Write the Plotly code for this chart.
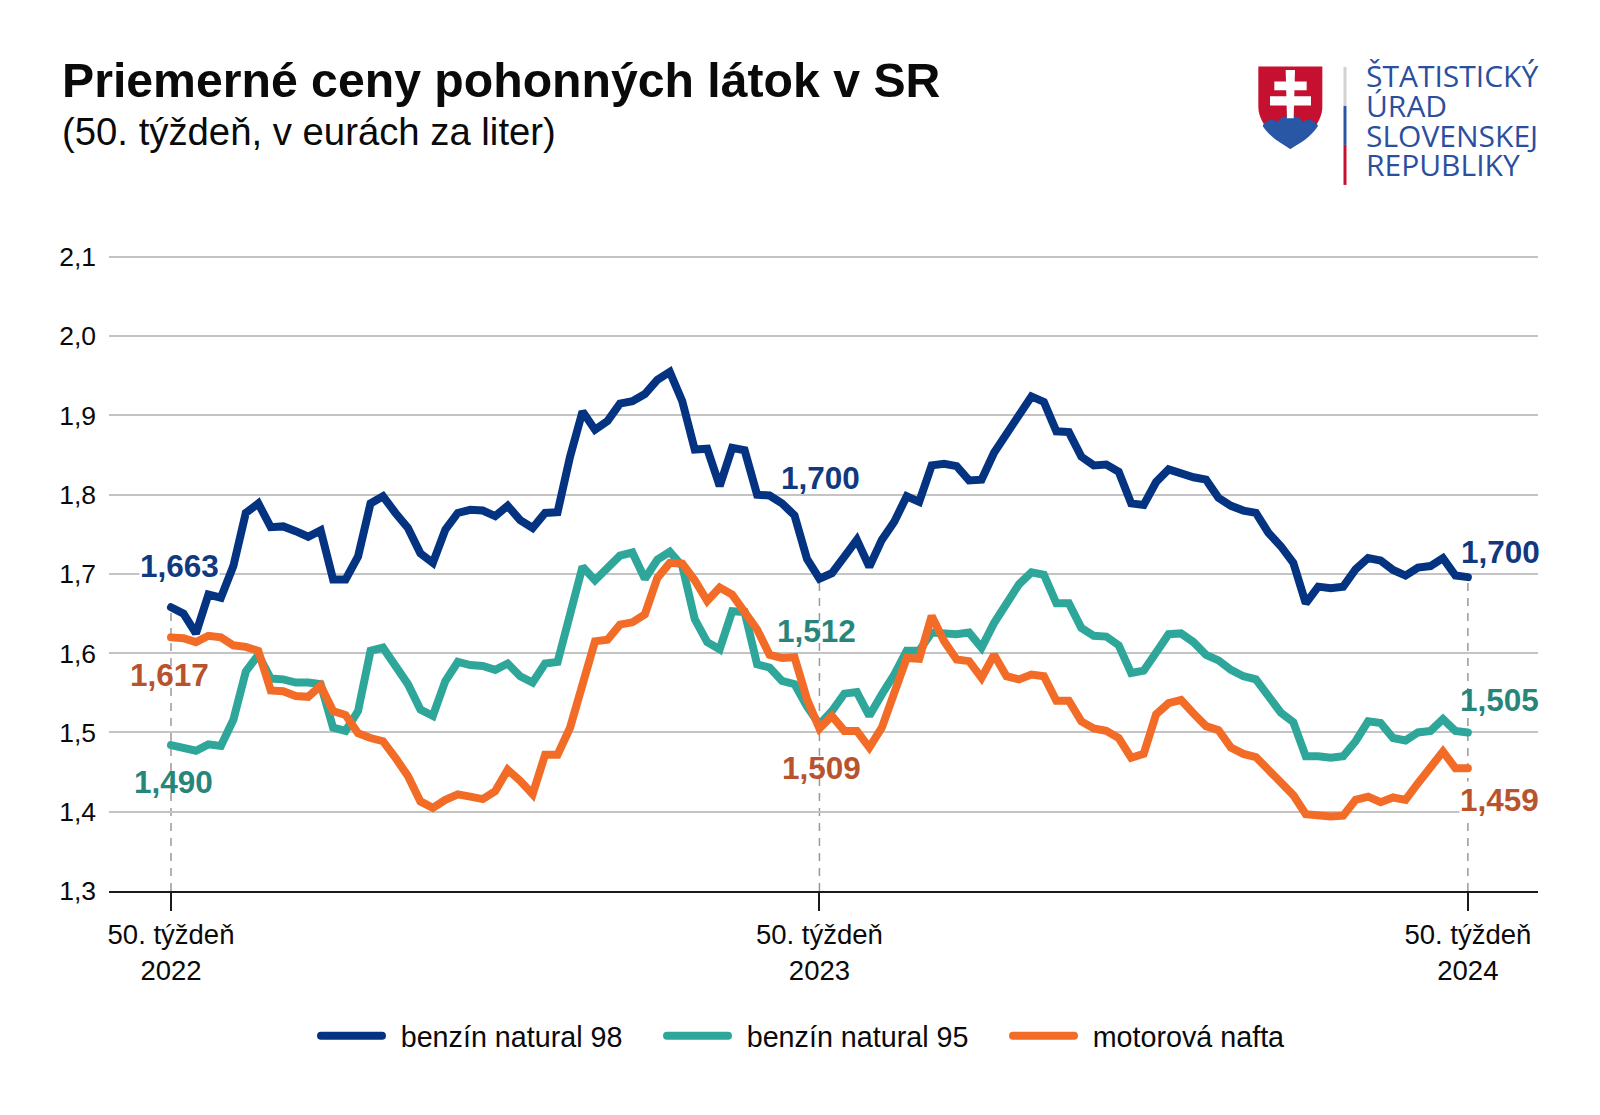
import plotly.graph_objects as go

TITLE = "Priemerné ceny pohonných látok v SR"
SUBTITLE = "(50. týždeň, v eurách za liter)"
NAMES = ["\u00a0\u2009benzín natural 98", "\u00a0\u2009benzín natural 95", "\u00a0\u2009motorová nafta"]
WEEK_TICKS = [0, 52, 104]
WEEK_LABELS = ["50. týždeň<br>2022", "50. týždeň<br>2023", "50. týždeň<br>2024"]
Y_TICKS = [1.3, 1.4, 1.5, 1.6, 1.7, 1.8, 1.9, 2.0, 2.1]

natural98 = [
 1.658,1.650,1.625,1.674,1.670,1.710,1.777,1.789,1.759,1.760,1.754,1.747,1.755,1.693,1.693,1.722,1.789,1.798,1.777,1.758,
 1.726,1.714,1.756,1.777,1.781,1.780,1.773,1.786,1.768,1.758,1.777,1.778,1.848,1.905,1.882,1.893,1.915,1.918,1.927,1.945,
 1.955,1.918,1.857,1.858,1.811,1.859,1.856,1.800,1.799,1.789,1.774,1.719,1.694,1.701,1.722,1.743,1.709,1.743,1.766,1.798,
 1.791,1.837,1.839,1.836,1.818,1.819,1.853,1.876,1.900,1.924,1.917,1.880,1.879,1.848,1.837,1.838,1.829,1.789,1.787,1.816,
 1.832,1.826,1.822,1.819,1.796,1.786,1.780,1.777,1.752,1.735,1.714,1.663,1.684,1.682,1.684,1.706,1.720,1.717,1.705,1.698,
 1.708,1.710,1.720,1.698,1.696]
natural95 = [
 1.484,1.481,1.477,1.485,1.483,1.516,1.577,1.598,1.568,1.567,1.563,1.563,1.561,1.506,1.502,1.527,1.603,1.607,1.582,1.561,
 1.529,1.521,1.565,1.589,1.585,1.584,1.579,1.587,1.571,1.563,1.587,1.589,1.649,1.709,1.692,1.706,1.723,1.727,1.694,1.718,
 1.728,1.710,1.643,1.614,1.605,1.653,1.652,1.586,1.582,1.565,1.561,1.533,1.510,1.527,1.549,1.551,1.521,1.548,1.573,1.603,
 1.603,1.626,1.625,1.624,1.626,1.607,1.638,1.661,1.687,1.702,1.699,1.663,1.663,1.632,1.622,1.621,1.610,1.575,1.578,1.601,
 1.624,1.625,1.614,1.598,1.591,1.579,1.571,1.567,1.546,1.525,1.513,1.470,1.470,1.468,1.470,1.489,1.514,1.512,1.493,1.490,
 1.500,1.502,1.517,1.502,1.500]
nafta = [
 1.620,1.619,1.614,1.622,1.620,1.610,1.608,1.603,1.553,1.552,1.546,1.545,1.559,1.527,1.522,1.499,1.493,1.489,1.468,1.445,
 1.413,1.405,1.415,1.422,1.419,1.416,1.426,1.453,1.439,1.422,1.472,1.472,1.506,1.561,1.615,1.617,1.636,1.639,1.649,1.695,
 1.714,1.713,1.692,1.666,1.683,1.674,1.653,1.630,1.598,1.594,1.595,1.542,1.505,1.521,1.502,1.502,1.481,1.506,1.550,1.594,
 1.593,1.647,1.615,1.592,1.590,1.569,1.598,1.571,1.567,1.573,1.571,1.540,1.540,1.514,1.505,1.502,1.493,1.468,1.473,1.523,
 1.537,1.541,1.524,1.508,1.503,1.481,1.473,1.469,1.453,1.436,1.421,1.397,1.395,1.394,1.395,1.415,1.419,1.412,1.418,1.415,
 1.436,1.458,1.476,1.455,1.455]
SERIES = [natural98, natural95, nafta]
LINE_COLORS = ["#043382", "#2ea79a", "#f26c27"]
DASH_TOPS = [natural98[0], natural98[52], natural98[104]]

# value callouts: text, colour, centre x and y in page pixels
NAVY_T, TEAL_T, RUST_T = "#11397f", "#27857a", "#b8532d"
CALLOUTS = [
 ("1,663", NAVY_T, 179, 566, True), ("1,617", RUST_T, 169, 675, False), ("1,490", TEAL_T, 173, 782, False),
 ("1,700", NAVY_T, 820, 478, False), ("1,512", TEAL_T, 816, 631, False), ("1,509", RUST_T, 821, 768, False),
 ("1,700", NAVY_T, 1500, 552, False), ("1,505", TEAL_T, 1499, 700, False), ("1,459", RUST_T, 1499, 800, True),
]
LOGO_LINES = [("ŠTATISTICKÝ", 76), ("ÚRAD", 106), ("SLOVENSKEJ", 136), ("REPUBLIKY", 165)]

W, H = 1600, 1115
L, R, B = 109, 1538, 891
Y_TOP = 2.11               # a hair above the top tick so that its gridline is kept
T = B - (Y_TOP - 1.3) * 792.5
FONT = "Liberation Sans"
INK = "#0a0a0a"

def px(x): return (x - L) / (R - L)
def py(y): return (B - y) / (B - T)

def logo_path(cmds):
    """cmds: SVG-like path in logo crop coordinates, converted to paper coordinates."""
    out = []
    for c in cmds:
        if isinstance(c, str):
            out.append(c)
        else:
            out.append(f"{px(1240 + c[0] / 3):.5f},{py(50 + c[1] / 3):.5f}")
    return " ".join(out)

fig = go.Figure()
for name, vals, col in zip(NAMES, SERIES, LINE_COLORS):
    fig.add_trace(go.Scatter(x=list(range(len(vals))), y=vals, name=name, mode="lines",
                             line=dict(color=col, width=8), hoverinfo="skip"))

shapes = []
for wk, top in zip(WEEK_TICKS, DASH_TOPS):
    shapes.append(dict(type="line", xref="x", yref="y", x0=wk, x1=wk, y0=1.3, y1=top, layer="below",
                       line=dict(color="#999999", width=1.5, dash="8px,7px")))

shield = [ "M", (55, 50), "L", (247, 50), "L", (247, 170), "C", (247, 225), (195, 265), (151, 297),
           "C", (107, 265), (55, 225), (55, 170), "Z"]
hills = ["M", (68, 228), "C", (74, 212), (96, 204), (114, 216), "C", (122, 192), (180, 192), (188, 216),
         "C", (206, 204), (228, 212), (234, 228), "C", (212, 262), (180, 280), (151, 297),
         "C", (122, 280), (90, 262), (68, 228), "Z"]
stem = ["M", (137, 60), "L", (165, 60), "L", (161, 205), "L", (141, 205), "Z"]
bar1 = ["M", (103, 95), "L", (200, 95), "L", (200, 121), "L", (103, 121), "Z"]
bar2 = ["M", (90, 139), "L", (213, 139), "L", (213, 167), "L", (90, 167), "Z"]
for p, col in [(shield, "#c5112f"), (hills, "#2a57a5"), (stem, "#ffffff"), (bar1, "#ffffff"), (bar2, "#ffffff")]:
    shapes.append(dict(type="path", xref="paper", yref="paper", path=logo_path(p),
                       fillcolor=col, line=dict(width=0), layer="above"))
for y0, y1, col in [(67, 106, "#d3d3d3"), (106, 145, "#2a57a5"), (145, 185, "#c5112f")]:
    shapes.append(dict(type="rect", xref="paper", yref="paper", x0=px(1343.5), x1=px(1346.5),
                       y0=py(y0), y1=py(y1), fillcolor=col, line=dict(width=0), layer="above"))

ann = [dict(text=SUBTITLE, xref="paper", yref="paper", x=px(60), y=py(132), xanchor="left", yanchor="middle",
            showarrow=False, font=dict(family=FONT, size=38.3, color=INK))]
for txt, col, x, y, bg in CALLOUTS:
    ann.append(dict(text=f"<b>{txt}</b>", xref="paper", yref="paper", x=px(x), y=py(y), xanchor="center",
                    yanchor="middle", showarrow=False, borderpad=0,
                    bgcolor="#ffffff" if bg else None,
                    font=dict(family=FONT, size=31.5, color=col)))
for txt, y in LOGO_LINES:
    ann.append(dict(text=txt, xref="paper", yref="paper", x=px(1364), y=py(y), xanchor="left", yanchor="middle",
                    showarrow=False, font=dict(family="Open Sans", size=30, color="#2b4f9e")))

fig.update_layout(
    width=W, height=H, autosize=False, paper_bgcolor="#ffffff", plot_bgcolor="#ffffff",
    margin=dict(l=L, r=W - R, t=T, b=H - B, pad=0),
    separators=", ",
    font=dict(family=FONT, size=26, color=INK),
    title=dict(text=f"<b>{TITLE}</b>", x=62 / W, xref="container", xanchor="left", y=1 - 80 / H, yref="container",
               yanchor="middle", font=dict(family=FONT, size=48.2, color=INK)),
    xaxis=dict(range=[(L - 171) / 12.47, (R - 171) / 12.47], tickmode="array", tickvals=WEEK_TICKS, ticktext=WEEK_LABELS,
               showgrid=False, zeroline=False, showline=True, linecolor="#1a1a1a", linewidth=2,
               ticks="outside", ticklen=18, tickwidth=2, tickcolor="#1a1a1a",
               tickfont=dict(family=FONT, size=27.5, color=INK)),
    yaxis=dict(range=[1.3, Y_TOP], tickmode="array", tickvals=Y_TICKS, tickformat=".1f",
               showgrid=True, gridcolor="#c4c4c4", gridwidth=1.5, zeroline=False, showline=False,
               ticks="", ticklabelstandoff=12, tickfont=dict(family=FONT, size=26.5, color=INK)),
    legend=dict(orientation="h", x=px(316), xanchor="left", y=py(1036), yanchor="middle", itemwidth=61,
                entrywidth=270, entrywidthmode="pixels", font=dict(family=FONT, size=28.7, color=INK),
                bgcolor="rgba(0,0,0,0)", traceorder="normal"),
    shapes=shapes, annotations=ann,
)

fig.write_html("out.html", config={"displayModeBar": False},
    post_script="document.body.style.margin='0';document.querySelectorAll('.js-line').forEach(function(e){e.style.strokeLinecap='round';});")
